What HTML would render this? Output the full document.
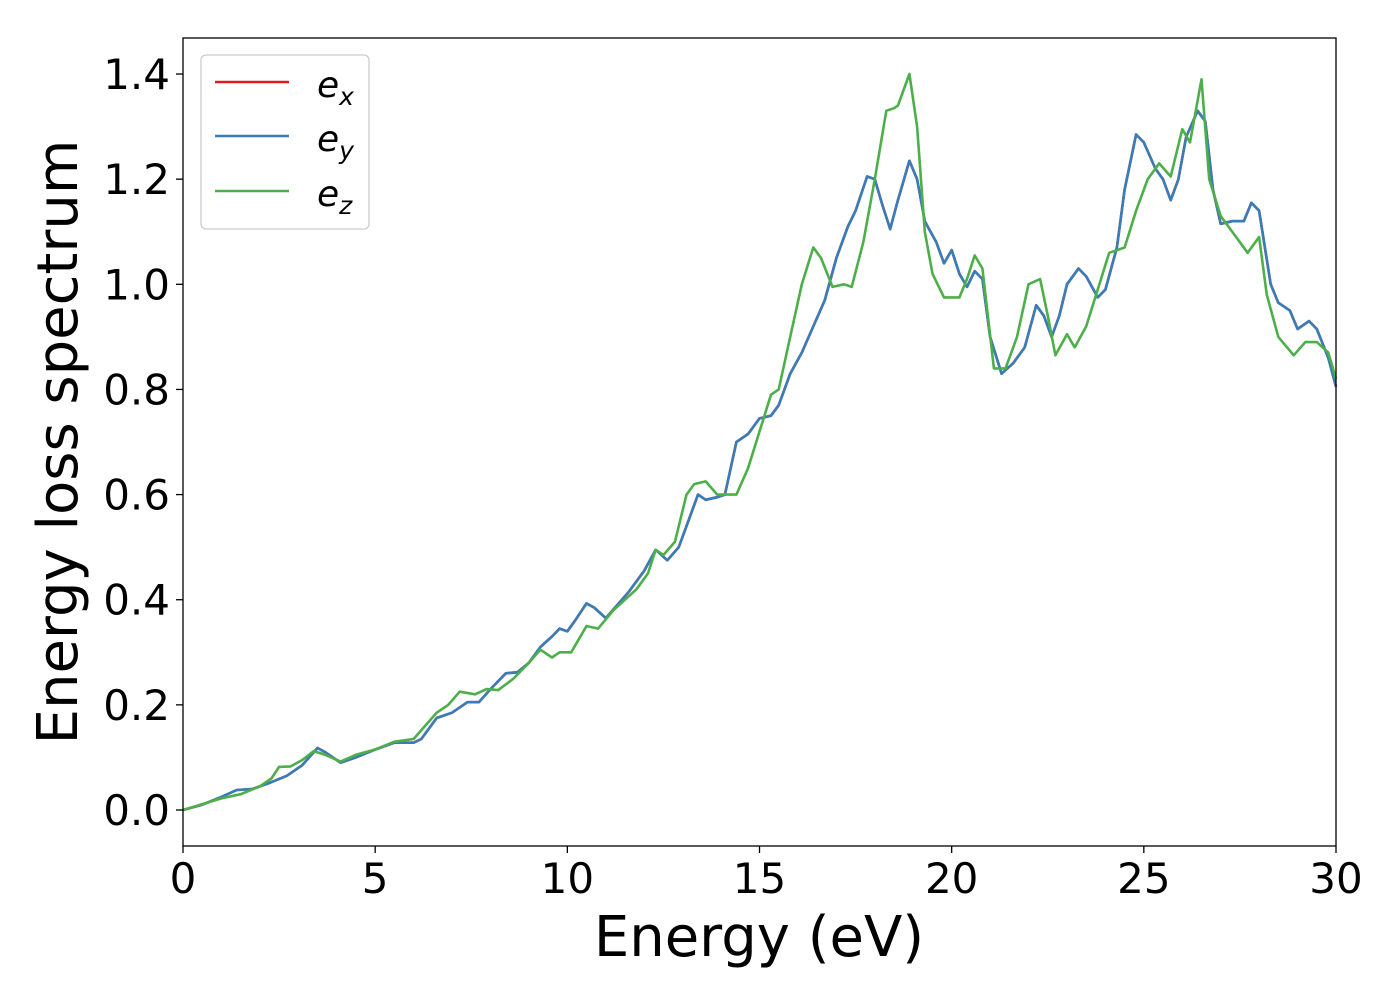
<!DOCTYPE html>
<html><head><meta charset="utf-8"><style>
html,body{margin:0;padding:0;background:#fff;}
svg{display:block;font-family:"DejaVu Sans","Liberation Sans",sans-serif;}
</style></head><body>
<svg id="chart" width="1400" height="1000">
<rect x="0" y="0" width="1400" height="1000" fill="#fff"/>
<g id="grid"></g>
<g id="series"></g>
<rect x="183" y="38" width="1153" height="808" fill="none" stroke="#000" stroke-width="1.3"/>
<g id="xticks"></g>
<g id="yticks"></g>
<text x="759" y="956" font-size="56" text-anchor="middle">Energy (eV)</text>
<text transform="translate(77,442) rotate(-90)" font-size="56" text-anchor="middle">Energy loss spectrum</text>
<g>
<rect x="201" y="55" width="168" height="174" rx="5" fill="#fff" fill-opacity="0.8" stroke="#ccc" stroke-width="1.3"/>
<g><line x1="215" y1="82" x2="289" y2="82" stroke="#e41a1c" stroke-width="2.5"/><text x="317" y="97" font-size="36" font-style="italic">e<tspan font-size="25" dy="8">x</tspan></text></g>
<g><line x1="215" y1="136" x2="289" y2="136" stroke="#377eb8" stroke-width="2.5"/><text x="317" y="151" font-size="36" font-style="italic">e<tspan font-size="25" dy="8">y</tspan></text></g>
<g><line x1="215" y1="191" x2="289" y2="191" stroke="#4daf4a" stroke-width="2.5"/><text x="317" y="206" font-size="36" font-style="italic">e<tspan font-size="25" dy="8">z</tspan></text></g>
</g>
</svg>
<script>
const xTicks=[0,5,10,15,20,25,30];
const yTicks=[0.0,0.2,0.4,0.6,0.8,1.0,1.2,1.4];
const eyE=[0,0.5,1.0,1.4,1.8,2.2,2.7,3.1,3.5,3.7,4.1,4.5,5.0,5.5,6.0,6.2,6.6,7.0,7.4,7.7,8.0,8.4,8.7,9.0,9.3,9.6,9.8,10.0,10.2,10.5,10.7,11.0,11.3,11.6,12.0,12.3,12.6,12.9,13.1,13.4,13.6,13.9,14.1,14.4,14.7,15.0,15.3,15.5,15.8,16.1,16.4,16.7,17.0,17.3,17.5,17.8,18.0,18.2,18.4,18.6,18.9,19.1,19.3,19.6,19.8,20.0,20.2,20.4,20.6,20.8,21.0,21.3,21.6,21.9,22.2,22.4,22.6,22.8,23.0,23.3,23.5,23.8,24.0,24.3,24.5,24.8,25.0,25.3,25.5,25.7,25.9,26.1,26.4,26.6,26.8,27.0,27.3,27.6,27.8,28.0,28.3,28.5,28.8,29.0,29.3,29.5,29.8,30.0];
const eyV=[0,0.01,0.025,0.038,0.04,0.05,0.065,0.085,0.118,0.11,0.09,0.1,0.115,0.128,0.128,0.135,0.175,0.185,0.205,0.205,0.23,0.26,0.262,0.28,0.31,0.33,0.345,0.34,0.36,0.393,0.385,0.365,0.39,0.415,0.455,0.495,0.475,0.5,0.54,0.6,0.59,0.595,0.6,0.7,0.715,0.745,0.75,0.77,0.83,0.87,0.92,0.97,1.05,1.11,1.14,1.205,1.2,1.15,1.105,1.16,1.235,1.2,1.12,1.08,1.04,1.065,1.02,0.995,1.025,1.01,0.9,0.83,0.85,0.88,0.96,0.94,0.9,0.94,1.0,1.03,1.015,0.975,0.99,1.07,1.18,1.285,1.27,1.22,1.2,1.16,1.2,1.28,1.33,1.31,1.18,1.115,1.12,1.12,1.155,1.14,1.0,0.965,0.95,0.915,0.93,0.915,0.86,0.805];
const exE=eyE.slice();
const exV=eyV.slice();
const ezE=[0,1,1.5,2,2.3,2.5,2.8,3.1,3.4,3.7,4.1,4.5,5.0,5.5,6.0,6.3,6.6,6.9,7.2,7.6,7.9,8.2,8.6,9.0,9.3,9.6,9.8,10.1,10.5,10.8,11.2,11.5,11.8,12.1,12.3,12.5,12.8,13.1,13.3,13.6,13.9,14.1,14.4,14.7,15.0,15.3,15.5,15.8,16.1,16.4,16.6,16.9,17.2,17.4,17.7,18.0,18.3,18.5,18.6,18.9,19.1,19.3,19.5,19.8,20.2,20.4,20.6,20.8,21.1,21.4,21.7,22.0,22.3,22.5,22.7,23.0,23.2,23.5,23.8,24.1,24.5,24.8,25.1,25.4,25.7,26.0,26.2,26.5,26.7,27.0,27.4,27.7,28.0,28.2,28.5,28.9,29.2,29.5,29.8,30.0];
const ezV=[0,0.022,0.03,0.045,0.06,0.082,0.083,0.095,0.112,0.105,0.092,0.105,0.115,0.13,0.135,0.16,0.185,0.2,0.225,0.22,0.23,0.228,0.25,0.28,0.305,0.29,0.3,0.3,0.35,0.345,0.38,0.4,0.42,0.45,0.495,0.485,0.51,0.6,0.62,0.625,0.6,0.6,0.6,0.65,0.72,0.79,0.8,0.9,1.0,1.07,1.05,0.995,1.0,0.995,1.08,1.2,1.33,1.335,1.34,1.4,1.3,1.1,1.02,0.975,0.975,1.01,1.055,1.03,0.84,0.84,0.9,1.0,1.01,0.94,0.865,0.905,0.88,0.92,0.99,1.06,1.07,1.14,1.2,1.23,1.205,1.295,1.27,1.39,1.2,1.13,1.09,1.06,1.09,0.98,0.9,0.865,0.89,0.89,0.87,0.82];

const X0=183,X1=1336,Y0=810,PPU=525.7;
function xs(v){return X0+(v-0)/(30-0)*(X1-X0);}
function ys(v){return Y0-v*PPU;}
const NS='http://www.w3.org/2000/svg';
function mk(t,a){const e=document.createElementNS(NS,t);for(const k in a)e.setAttribute(k,a[k]);return e;}
const xg=document.getElementById('xticks');
xTicks.forEach(t=>{
  const l=mk('line',{x1:xs(t),x2:xs(t),y1:846,y2:853,stroke:'#000','stroke-width':1.3});
  
  
  xg.appendChild(l);
  const tx=mk('text',{x:xs(t),y:893,'font-size':42,'text-anchor':'middle'});
  
  
  tx.textContent=String(t);xg.appendChild(tx);
});
const yg=document.getElementById('yticks');
yTicks.forEach(t=>{
  const l=mk('line',{x1:176,x2:183,y1:ys(t),y2:ys(t),stroke:'#000','stroke-width':1.3});
  
  
  yg.appendChild(l);
  const tx=mk('text',{x:170,y:ys(t)+15,'font-size':42,'text-anchor':'end'});
  
  
  tx.textContent=t.toFixed(1);yg.appendChild(tx);
});
const sg=document.getElementById('series');
function line(E,V,color,name){
  const d=E.map((e,i)=>(i?'L':'M')+xs(e).toFixed(1)+','+ys(V[i]).toFixed(1)).join(' ');
  const p=mk('path',{d:d,fill:'none',stroke:color,'stroke-width':2.6,'stroke-linejoin':'round'});
  
  
  sg.appendChild(p);
}
line(exE,exV,'#e41a1c','series-ex');
line(eyE,eyV,'#377eb8','series-ey');
line(ezE,ezV,'#4daf4a','series-ez');
</script>
</body></html>
